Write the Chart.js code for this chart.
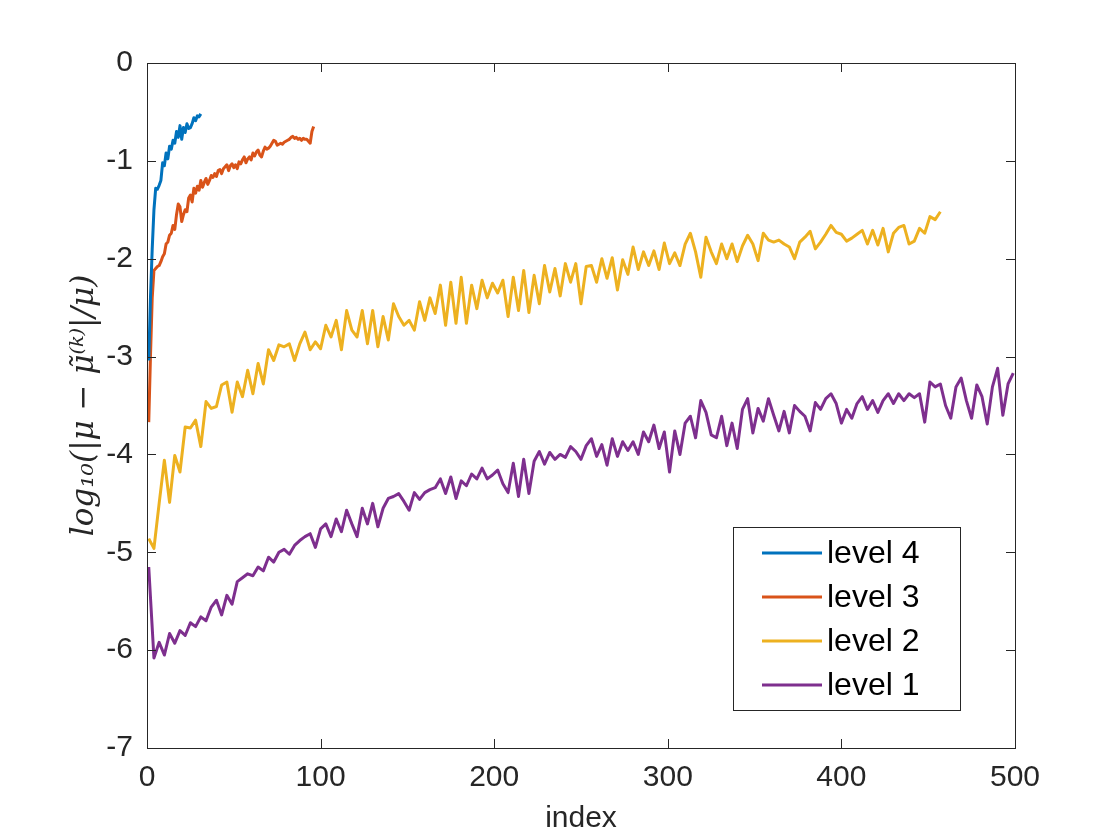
<!DOCTYPE html>
<html>
<head>
<meta charset="utf-8">
<script src="https://cdn.jsdelivr.net/npm/chart.js@4.4.1/dist/chart.umd.min.js"></script>
<style>
  html, body { margin: 0; padding: 0; background: #fff; }
</style>
</head>
<body>
<canvas id="chart" width="1120" height="840"></canvas>
<script>
const seriesLabels = ["level 4", "level 3", "level 2", "level 1"]
const seriesColors = ["#0072BD", "#D95319", "#EDB120", "#7E2F8E"]
const xTicks = [0, 100, 200, 300, 400, 500]
const yTicks = [0, -1, -2, -3, -4, -5, -6, -7]

// level 4 and level 3 read at every index (1, 2, 3, ...)
const level4 = [
  -3.04, -2.4, -1.9, -1.5, -1.28, -1.29, -1.25, -1.2, -1.02, -1.05,
  -0.92, -0.98, -0.85, -0.88, -0.79, -0.82, -0.7, -0.76, -0.64, -0.78,
  -0.66, -0.71, -0.62, -0.67, -0.66, -0.62, -0.56, -0.59, -0.54, -0.55,
  -0.52
]
const level3 = [
  -3.67, -3.0, -2.4, -2.12, -2.1, -2.08, -2.07, -2.03, -1.98, -1.95,
  -1.85, -1.83, -1.76, -1.74, -1.66, -1.7, -1.55, -1.44, -1.47, -1.62,
  -1.55, -1.5, -1.52, -1.38, -1.35, -1.42, -1.28, -1.33, -1.26, -1.3,
  -1.2, -1.27, -1.22, -1.18, -1.24, -1.2, -1.15, -1.17, -1.13, -1.16,
  -1.1, -1.09, -1.13, -1.08, -1.06, -1.04, -1.1, -1.05, -1.03, -1.07,
  -1.04, -1.08, -1.01, -1.03, -0.99, -0.96, -1.02, -0.98, -0.96, -0.99,
  -0.92, -0.95, -0.91, -0.89, -0.94, -0.96, -0.9, -0.86, -0.88, -0.87,
  -0.85, -0.82, -0.79, -0.8, -0.84, -0.83, -0.82, -0.83, -0.81, -0.8,
  -0.79, -0.78, -0.76, -0.75, -0.77, -0.76, -0.78, -0.77, -0.79, -0.77,
  -0.78, -0.78, -0.8, -0.82, -0.7, -0.65
]
// level 2 and level 1 read at every 3rd index (1, 4, 7, ...)
const level2Step = 3
const level2 = [
  -4.86, -4.96, -4.5, -4.06, -4.49, -4.01, -4.18, -3.72, -3.73, -3.65,
  -3.92, -3.46, -3.53, -3.51, -3.29, -3.26, -3.57, -3.26, -3.41, -3.14,
  -3.38, -3.07, -3.28, -2.93, -3.04, -2.88, -2.9, -2.87, -3.04, -2.87,
  -2.75, -2.93, -2.85, -2.92, -2.68, -2.8, -2.63, -2.93, -2.53, -2.73,
  -2.8, -2.53, -2.87, -2.53, -2.9, -2.59, -2.83, -2.46, -2.59, -2.68,
  -2.63, -2.73, -2.44, -2.63, -2.4, -2.56, -2.27, -2.68, -2.24, -2.66,
  -2.19, -2.66, -2.27, -2.51, -2.22, -2.4, -2.25, -2.35, -2.22, -2.59,
  -2.19, -2.53, -2.12, -2.55, -2.17, -2.46, -2.07, -2.34, -2.1, -2.38,
  -2.05, -2.24, -2.05, -2.46, -2.08, -2.07, -2.24, -2.0, -2.2, -1.99,
  -2.32, -2.01, -2.16, -1.88, -2.11, -1.93, -2.07, -1.92, -2.11, -1.84,
  -2.05, -1.94, -2.07, -1.85, -1.74, -1.93, -2.19, -1.78, -1.93, -2.05,
  -1.85, -2.0, -1.85, -2.03, -1.87, -1.76, -1.85, -2.02, -1.74, -1.81,
  -1.83, -1.81, -1.85, -1.88, -2.0, -1.83, -1.78, -1.72, -1.9, -1.83,
  -1.75, -1.66, -1.73, -1.75, -1.82, -1.79, -1.75, -1.71, -1.85, -1.71,
  -1.86, -1.69, -1.93, -1.74, -1.68, -1.66, -1.85, -1.82, -1.69, -1.74,
  -1.57, -1.6, -1.52
]
const level1Step = 3
const level1 = [
  -5.15, -6.08, -5.92, -6.05, -5.83, -5.93, -5.8, -5.85, -5.72, -5.76,
  -5.66, -5.7, -5.56, -5.49, -5.64, -5.44, -5.53, -5.3, -5.26, -5.22,
  -5.24, -5.15, -5.19, -5.05, -5.1, -5.0, -4.97, -5.02, -4.93, -4.88,
  -4.84, -4.81, -4.95, -4.76, -4.71, -4.84, -4.66, -4.79, -4.57, -4.71,
  -4.84, -4.55, -4.71, -4.5, -4.74, -4.55, -4.45, -4.43, -4.4, -4.48,
  -4.57, -4.39, -4.46, -4.39, -4.36, -4.34, -4.25, -4.4, -4.23, -4.45,
  -4.27, -4.32, -4.2, -4.25, -4.14, -4.25, -4.21, -4.16, -4.3, -4.39,
  -4.09, -4.43, -4.05, -4.4, -4.07, -3.97, -4.1, -3.98, -4.05, -4.0,
  -4.03, -3.92, -3.97, -4.05, -3.91, -3.84, -4.02, -3.9, -4.11, -3.84,
  -4.02, -3.87, -3.96, -3.87, -4.0, -3.77, -3.87, -3.7, -3.94, -3.77,
  -4.18, -3.76, -4.0, -3.68, -3.61, -3.83, -3.45, -3.57, -3.8, -3.83,
  -3.61, -3.91, -3.68, -3.94, -3.54, -3.43, -3.78, -3.53, -3.66, -3.43,
  -3.6, -3.76, -3.56, -3.78, -3.5, -3.56, -3.61, -3.76, -3.47, -3.54,
  -3.43, -3.38, -3.48, -3.68, -3.54, -3.63, -3.48, -3.41, -3.54, -3.45,
  -3.57, -3.45, -3.38, -3.48, -3.38, -3.45, -3.38, -3.42, -3.38, -3.67,
  -3.26, -3.31, -3.28, -3.5, -3.63, -3.31, -3.22, -3.45, -3.63, -3.29,
  -3.41, -3.69, -3.31, -3.12, -3.6, -3.28, -3.17
]

const axisColor = "#262626"
const tickFont = { family: "'Liberation Sans', Arial, sans-serif", size: 30 }
const lineWidth = 3

function toPoints(values, step) {
  return values.map((v, i) => ({ x: 1 + i * step, y: v }))
}

const seriesValues = [
  toPoints(level4, 1),
  toPoints(level3, 1),
  toPoints(level2, level2Step),
  toPoints(level1, level1Step),
]

// box, inward ticks on all four sides, legend inside the axes
const framePlugin = {
  id: "frame",
  afterDraw(chart) {
    const { ctx, chartArea: a, scales } = chart
    ctx.save()
    ctx.strokeStyle = axisColor
    ctx.lineWidth = 1
    ctx.strokeRect(a.left + 0.5, a.top + 0.5, a.right - a.left, a.bottom - a.top)

    const len = 9
    ctx.beginPath()
    scales.x.ticks.forEach((t) => {
      const px = Math.round(scales.x.getPixelForValue(t.value)) + 0.5
      ctx.moveTo(px, a.bottom)
      ctx.lineTo(px, a.bottom - len)
      ctx.moveTo(px, a.top)
      ctx.lineTo(px, a.top + len)
    })
    scales.y.ticks.forEach((t) => {
      const py = Math.round(scales.y.getPixelForValue(t.value)) + 0.5
      ctx.moveTo(a.left, py)
      ctx.lineTo(a.left + len, py)
      ctx.moveTo(a.right, py)
      ctx.lineTo(a.right - len, py)
    })
    ctx.stroke()

    // legend
    const boxLeft = a.right - 282
    const boxTop = a.bottom - 221
    const boxW = 227
    const boxH = 183
    ctx.fillStyle = "#fff"
    ctx.fillRect(boxLeft, boxTop, boxW, boxH)
    ctx.strokeStyle = axisColor
    ctx.strokeRect(boxLeft + 0.5, boxTop + 0.5, boxW, boxH)
    ctx.font = "32px 'Liberation Sans', Arial, sans-serif"
    ctx.textBaseline = "middle"
    chart.data.datasets.forEach((ds, i) => {
      const y = boxTop + 26 + i * 44
      ctx.strokeStyle = ds.borderColor
      ctx.lineWidth = lineWidth
      ctx.beginPath()
      ctx.moveTo(boxLeft + 29, y)
      ctx.lineTo(boxLeft + 89, y)
      ctx.stroke()
      ctx.fillStyle = "#000"
      ctx.fillText(ds.label, boxLeft + 94, y + 1)
    })
    ctx.restore()
  },
}

new Chart(document.getElementById("chart"), {
  type: "line",
  data: {
    datasets: seriesLabels.map((label, i) => ({
      label: label,
      data: seriesValues[i],
      borderColor: seriesColors[i],
      backgroundColor: seriesColors[i],
      borderWidth: lineWidth,
      borderJoinStyle: "round",
      pointRadius: 0,
      tension: 0,
      fill: false,
    })),
  },
  options: {
    responsive: false,
    animation: false,
    devicePixelRatio: 1,
    layout: { padding: { top: 63, right: 105, bottom: 0, left: 0 } },
    plugins: {
      legend: { display: false },
      tooltip: { enabled: false },
    },
    scales: {
      x: {
        type: "linear",
        min: 0,
        max: 500,
        afterBuildTicks: (s) => { s.ticks = xTicks.map((v) => ({ value: v })) },
        afterFit: (s) => { s.height = 92 },
        grid: { display: false },
        border: { display: false },
        ticks: { font: tickFont, color: axisColor, padding: 4, maxRotation: 0 },
        title: {
          display: true,
          text: "index",
          font: tickFont,
          color: axisColor,
          padding: { top: 0, bottom: 3 },
        },
      },
      y: {
        type: "linear",
        min: -7,
        max: 0,
        afterBuildTicks: (s) => { s.ticks = yTicks.map((v) => ({ value: v })) },
        afterFit: (s) => { s.width = 147 },
        grid: { display: false },
        border: { display: false },
        ticks: { font: tickFont, color: axisColor, padding: 6 },
        title: {
          display: true,
          text: "log\u2081\u2080(|\u03bc \u2212 \u03bc\u0303\u207d\u1d4f\u207e|/\u03bc)",
          font: { family: "'DejaVu Serif', 'Liberation Serif', serif", size: 31, style: "italic" },
          color: axisColor,
          padding: { top: 66, bottom: 0 },
        },
      },
    },
  },
  plugins: [framePlugin],
})
</script>
</body>
</html>
